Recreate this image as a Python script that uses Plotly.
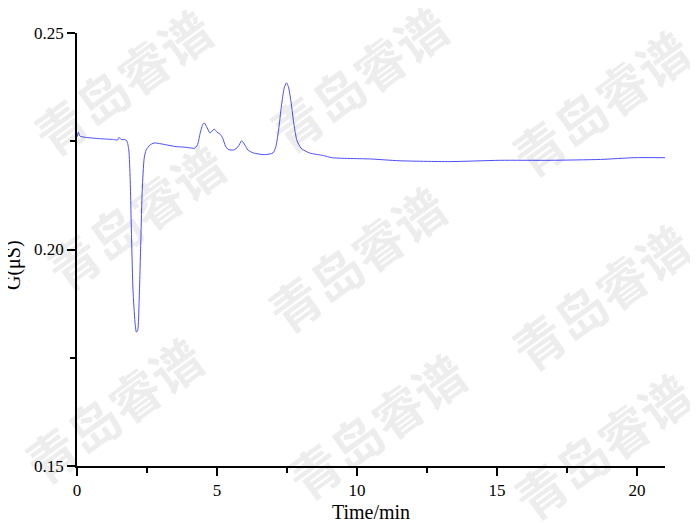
import plotly.graph_objects as go

# Time (min) and conductivity G (µS)
time_min = [0.00, 0.05, 0.10, 0.30, 0.80, 1.30, 1.45, 1.50, 1.58, 1.70, 1.78, 1.85, 1.90, 1.95,
            2.00, 2.07, 2.12, 2.17, 2.22, 2.28, 2.33, 2.40, 2.47, 2.60, 2.75, 3.00, 3.50, 3.90,
            4.20, 4.30, 4.40, 4.50, 4.55, 4.65, 4.75, 4.90, 5.00, 5.10, 5.20, 5.30, 5.40, 5.60,
            5.75, 5.88, 6.00, 6.10, 6.30, 6.70, 7.00, 7.10, 7.20, 7.30, 7.40, 7.48, 7.55, 7.65,
            7.75, 7.85, 8.00, 8.30, 8.80, 9.10, 10.5, 11.5, 13.3, 15.1, 16.9, 18.7, 19.9, 21.0]
g_us = [0.2260, 0.2271, 0.2262, 0.2259, 0.2256, 0.2254, 0.2253, 0.2259, 0.2254, 0.2254, 0.2251,
        0.2230, 0.2161, 0.2022, 0.1906, 0.1833, 0.1809, 0.1814, 0.1883, 0.2022, 0.2137, 0.2211,
        0.2230, 0.2241, 0.2246, 0.2244, 0.2238, 0.2236, 0.2234, 0.2241, 0.2269, 0.2290, 0.2292,
        0.2281, 0.2269, 0.2278, 0.2271, 0.2267, 0.2258, 0.2239, 0.2231, 0.2230, 0.2237, 0.2251,
        0.2241, 0.2230, 0.2223, 0.2219, 0.2223, 0.2237, 0.2276, 0.2331, 0.2373, 0.2385, 0.2376,
        0.2338, 0.2288, 0.2253, 0.2234, 0.2223, 0.2217, 0.2212, 0.2209, 0.2205, 0.2203, 0.2206,
        0.2206, 0.2208, 0.2212, 0.2212]

x_ticks = [0, 5, 10, 15, 20]
y_ticks = [0.15, 0.20, 0.25]
y_tick_labels = ["0.15", "0.20", "0.25"]

watermark_text = "青岛睿谱"
# watermark centres in pixel coordinates of the 698x523 picture
wm_px = [122, 358, 600, 135, 356, 600, 113, 376, 602]
wm_py = [81, 78, 102, 216, 258, 296, 409, 425, 445]

# the page body has an 8px margin, so the figure is drawn 8px smaller
OFF = 8
W, H = 698 - OFF, 523 - OFF
L, R, T, B = 77 - OFF, 33, 33 - OFF, 57
PL, PT = 77, 33            # plot-area left / top in picture pixels
pw, ph = 588, 433          # plot-area size

fig = go.Figure()
fig.add_trace(go.Scatter(x=time_min, y=g_us, mode="lines",
                         line=dict(color="#4d4dff", width=1, shape="spline", smoothing=0.6),
                         showlegend=False))

font_fam = "Liberation Serif, Times New Roman, serif"
axis_common = dict(showline=True, linecolor="black", linewidth=1.5, showgrid=False,
                   zeroline=False, ticks="outside", ticklen=8, tickwidth=1.5,
                   tickcolor="black", tickfont=dict(family=font_fam, size=17, color="black"),
                   mirror=False, automargin=False)

fig.update_xaxes(range=[0, 21], tickvals=x_ticks,
                 minor=dict(ticks="outside", ticklen=5, tickwidth=1.5, tickcolor="black",
                            dtick=2.5, tick0=0, showgrid=False),
                 title=dict(text="Time/min", font=dict(family=font_fam, size=20, color="black"),
                            standoff=6),
                 **axis_common)
fig.update_yaxes(range=[0.15, 0.25], tickvals=y_ticks, ticktext=y_tick_labels,
                 minor=dict(ticks="outside", ticklen=5, tickwidth=1.5, tickcolor="black",
                            dtick=0.025, tick0=0.15, showgrid=False),
                 **axis_common)

annotations = []
for px, py in zip(wm_px, wm_py):
    annotations.append(dict(text=watermark_text, x=(px - PL) / pw, y=(PT + ph - py) / ph,
                            xref="paper", yref="paper", showarrow=False, textangle=-36,
                            font=dict(family="Noto Sans CJK SC", size=51, weight="bold",
                                      color="rgba(0,0,0,0.07)"),
                            xanchor="center", yanchor="middle"))
annotations.append(dict(text="G(μS)", x=(13 - PL) / pw, y=(PT + ph - 265) / ph, xref="paper",
                        yref="paper", showarrow=False, textangle=-90,
                        font=dict(family=font_fam, size=20, color="black"),
                        xanchor="center", yanchor="middle"))

fig.update_layout(width=W, height=H, margin=dict(l=L, r=R, t=T, b=B, autoexpand=False),
                  paper_bgcolor="white", plot_bgcolor="white", annotations=annotations)

fig.write_html("out.html")
